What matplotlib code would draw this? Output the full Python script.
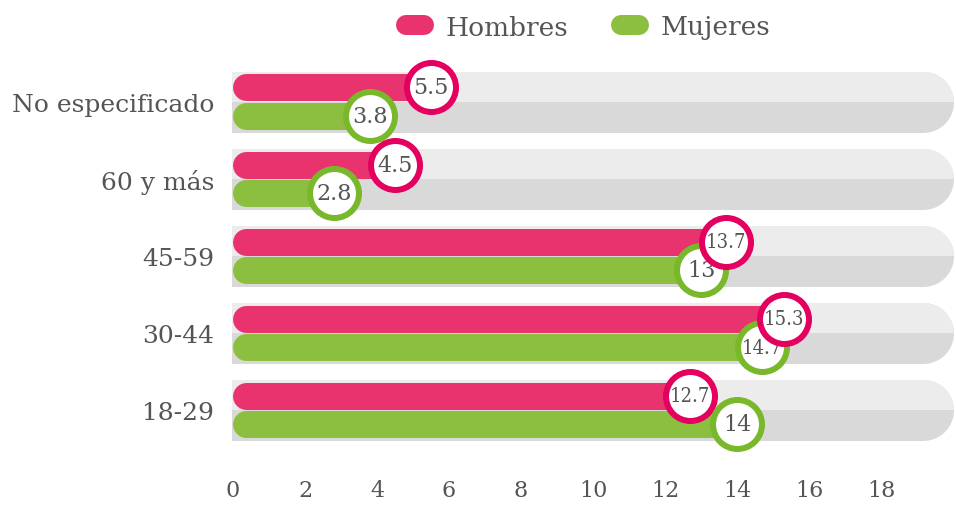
#!/usr/bin/env python3
"""
Horizontal paired bars: Hombres / Mujeres by age group
"""
import matplotlib
matplotlib.use("Agg")
import matplotlib.pyplot as plt
from matplotlib.lines import Line2D
from matplotlib.patches import Rectangle

# Data
categories = ["No especificado", "60 y más", "45-59", "30-44", "18-29"]
hombres = [5.5, 4.5, 13.7, 15.3, 12.7]
mujeres = [3.8, 2.8, 13.0, 14.7, 14.0]
series_names = ["Hombres", "Mujeres"]
xticks = [0, 2, 4, 6, 8, 10, 12, 14, 16, 18]

PINK = "#e8336e"
PINK_RING = "#e4005f"
GREEN = "#8cbe3f"
GREEN_RING = "#79b82b"
TRACK_LIGHT = "#ececec"
TRACK_DARK = "#d9d9d9"
TEXT = "#555555"

W, H = 956, 506
PX = 0.72  # points per pixel at dpi 100
X0 = -0.028


def main():
    plt.rcParams['font.family'] = ['DejaVu Serif']
    fig = plt.figure(figsize=(W / 100, H / 100), dpi=100)
    ax = fig.add_axes([232 / W, 1 - 465 / H, 1 - 232 / W, 405 / H])
    ax.set_xlim(X0, 20.08)
    ax.set_ylim(4.701, -0.558)

    off = 0.188  # half distance between the two bars of a group
    bar_start = X0 + 13.5 / 36
    track_end = 19.15

    for i in range(len(categories)):
        # background track, square on the left, rounded on the right
        dark = ax.plot([-1, track_end], [i, i], color=TRACK_DARK, lw=61 * PX,
                       solid_capstyle='round', zorder=1)[0]
        dark.set_clip_path(Rectangle((X0, i - 0.5), 30, 1,
                                     transform=ax.transData))
        top = ax.plot([-1, track_end], [i, i], color=TRACK_LIGHT, lw=61 * PX,
                      solid_capstyle='round', zorder=1.5)[0]
        top.set_clip_path(Rectangle((X0, i - 0.5), 30, 0.5,
                                    transform=ax.transData))

        for val, dy, col, ring in [(hombres[i], -off, PINK, PINK_RING),
                                   (mujeres[i], off, GREEN, GREEN_RING)]:
            ax.plot([bar_start, val], [i + dy, i + dy], color=col, lw=27 * PX,
                    solid_capstyle='round', zorder=2)
            z = 5 + val / 100
            ax.scatter([val], [i + dy], s=(49 * PX) ** 2, facecolor='white',
                       edgecolor=ring, linewidths=6 * PX, zorder=z)
            label = f"{val:g}"
            short = len(label) <= 3
            ax.text(val, i + dy, label, ha='center', va='center',
                    fontsize=16 if short else 14.5,
                    fontstretch='normal' if short else 'condensed',
                    color=TEXT, zorder=z + 0.001)

    ax.set_yticks(range(len(categories)))
    ax.set_yticklabels(categories, fontsize=18)
    ax.set_xticks(xticks)
    ax.set_xticklabels([str(t) for t in xticks], fontsize=16)
    ax.tick_params(axis='both', length=0, colors=TEXT)
    ax.tick_params(axis='y', pad=13)
    ax.tick_params(axis='x', pad=11)
    for s in ax.spines.values():
        s.set_visible(False)

    handles = [Line2D([0], [0], color=PINK, lw=20 * PX, solid_capstyle='round'),
               Line2D([0], [0], color=GREEN, lw=20 * PX, solid_capstyle='round')]
    leg = fig.legend(handles, series_names, loc='center',
                     bbox_to_anchor=(588 / W, 1 - 28 / H), ncol=2,
                     frameon=False, fontsize=19, handlelength=0.7,
                     handletextpad=0.8, columnspacing=2.0)
    for t in leg.get_texts():
        t.set_color(TEXT)

    fig.savefig("out.png", dpi=100)


if __name__ == "__main__":
    main()
